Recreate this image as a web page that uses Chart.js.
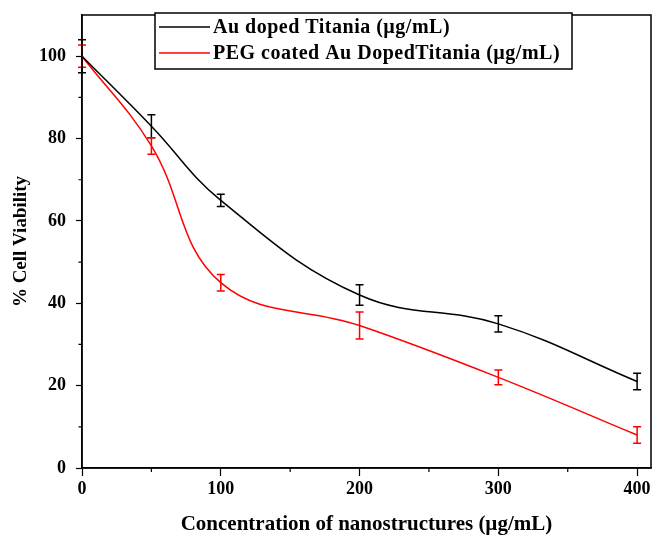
<!DOCTYPE html>
<html>
<head>
<meta charset="utf-8">
<script src="https://cdn.jsdelivr.net/npm/chart.js@4.4.1/dist/chart.umd.min.js"></script>
<style>
  body { margin: 0; background: #fff; }
  #wrap { width: 654px; height: 536px; }
</style>
</head>
<body>
<div id="wrap"><canvas id="chart" width="654" height="536"></canvas></div>
<script>
// valeurs
const concentrations = [0, 50, 100, 200, 300, 400];
const auDoped = [100, 83, 65, 42, 35, 21];
const auDopedErr = [4, 2.8, 1.5, 2.5, 2, 2];
const pegCoated = [100, 78.2, 45, 34.6, 22, 8];
const pegCoatedErr = [2.7, 2, 2, 3.3, 1.8, 2];
const seriesLabels = ['Au doped Titania (µg/mL)', 'PEG coated Au DopedTitania (µg/mL)'];
const xTickValues = [0, 100, 200, 300, 400];
const yTickValues = [0, 20, 40, 60, 80, 100];

const serif = 'Liberation Serif, Times New Roman, serif';

function toPoints(ys) {
  return concentrations.map((x, i) => ({ x: x, y: ys[i] }));
}

// barres d'erreur
const errorBars = {
  id: 'errorBars',
  afterDatasetsDraw(chart) {
    const ctx = chart.ctx;
    const xs = chart.scales.x, ys = chart.scales.y;
    chart.data.datasets.forEach((ds) => {
      const errs = ds.errors;
      ctx.save();
      ctx.strokeStyle = ds.borderColor;
      ctx.lineWidth = 1.5;
      ds.data.forEach((p, i) => {
        const px = xs.getPixelForValue(p.x);
        const top = ys.getPixelForValue(p.y + errs[i]);
        const bot = ys.getPixelForValue(p.y - errs[i]);
        ctx.beginPath();
        ctx.moveTo(px, top); ctx.lineTo(px, bot);
        ctx.moveTo(px - 4, top); ctx.lineTo(px + 4, top);
        ctx.moveTo(px - 4, bot); ctx.lineTo(px + 4, bot);
        ctx.stroke();
      });
      ctx.restore();
    });
  }
};

// cadre, petites graduations et légende encadrée
const frameAndLegend = {
  id: 'frameAndLegend',
  afterDraw(chart) {
    const ctx = chart.ctx;
    const a = chart.chartArea;
    const xs = chart.scales.x, ys = chart.scales.y;
    ctx.save();
    ctx.strokeStyle = '#000';
    ctx.lineWidth = 1.5;
    ctx.strokeRect(a.left, a.top, a.right - a.left, a.bottom - a.top);

    ctx.lineWidth = 1.2;
    ctx.beginPath();
    for (let i = 0; i < xTickValues.length - 1; i++) {
      const px = xs.getPixelForValue((xTickValues[i] + xTickValues[i + 1]) / 2);
      ctx.moveTo(px, a.bottom); ctx.lineTo(px, a.bottom + 4);
    }
    for (let i = 0; i < yTickValues.length - 1; i++) {
      const py = ys.getPixelForValue((yTickValues[i] + yTickValues[i + 1]) / 2);
      ctx.moveTo(a.left, py); ctx.lineTo(a.left - 3.5, py);
    }
    ctx.stroke();

    // légende
    const bx = 155, by = 13, bw = 417, bh = 56;
    ctx.fillStyle = '#fff';
    ctx.fillRect(bx, by, bw, bh);
    ctx.lineWidth = 1.5;
    ctx.strokeRect(bx, by, bw, bh);
    ctx.font = 'bold 20px ' + serif;
    ctx.letterSpacing = '0.5px';
    ctx.textBaseline = 'middle';
    ctx.textAlign = 'left';
    chart.data.datasets.forEach((ds, i) => {
      const ly = by + 14 + i * 26;
      ctx.strokeStyle = ds.borderColor;
      ctx.lineWidth = 1.5;
      ctx.beginPath();
      ctx.moveTo(bx + 4, ly); ctx.lineTo(bx + 55, ly);
      ctx.stroke();
      ctx.fillStyle = '#000';
      ctx.fillText(ds.label, bx + 58, ly + 1);
    });
    ctx.restore();
  }
};

new Chart(document.getElementById('chart'), {
  type: 'line',
  data: {
    datasets: [
      {
        label: seriesLabels[0],
        data: toPoints(auDoped),
        errors: auDopedErr,
        borderColor: '#000000',
        borderWidth: 1.5,
        pointRadius: 0,
        tension: 0.4,
        fill: false
      },
      {
        label: seriesLabels[1],
        data: toPoints(pegCoated),
        errors: pegCoatedErr,
        borderColor: '#ff0000',
        borderWidth: 1.5,
        pointRadius: 0,
        tension: 0.4,
        fill: false
      }
    ]
  },
  options: {
    responsive: false,
    animation: false,
    layout: { padding: { left: 0, right: 3, top: 15, bottom: 0 } },
    plugins: { legend: { display: false }, tooltip: { enabled: false } },
    scales: {
      x: {
        type: 'linear',
        min: 0,
        max: 410,
        afterBuildTicks(scale) { scale.ticks = xTickValues.map(v => ({ value: v })); },
        afterFit(scale) {
          scale.height = 68;
          scale.paddingLeft = 0; scale.paddingRight = 0;
        },
        border: { display: true, color: '#000', width: 1.5 },
        grid: { drawOnChartArea: false, drawTicks: true, tickLength: 8, color: '#000', tickWidth: 1.2 },
        ticks: {
          padding: 3,
          color: '#000',
          font: { family: serif, size: 18, weight: 'bold' }
        },
        title: {
          display: true,
          text: 'Concentration of nanostructures (µg/mL)',
          color: '#000',
          padding: { top: 0, bottom: 0 },
          font: { family: serif, size: 21, weight: 'bold', lineHeight: 1.1 }
        }
      },
      y: {
        min: 0,
        max: 110,
        afterBuildTicks(scale) { scale.ticks = yTickValues.map(v => ({ value: v })); },
        afterFit(scale) {
          scale.width = 82;
          scale.paddingTop = 0; scale.paddingBottom = 0;
        },
        border: { display: true, color: '#000', width: 1.5 },
        grid: { drawOnChartArea: false, drawTicks: true, tickLength: 6, color: '#000', tickWidth: 1.2 },
        ticks: {
          padding: 10,
          color: '#000',
          font: { family: serif, size: 18, weight: 'bold' }
        },
        title: {
          display: true,
          text: '% Cell Viability',
          color: '#000',
          padding: { top: 10, bottom: 0 },
          font: { family: serif, size: 19, weight: 'bold', lineHeight: 1.2 }
        }
      }
    }
  },
  plugins: [errorBars, frameAndLegend]
});
</script>
</body>
</html>
